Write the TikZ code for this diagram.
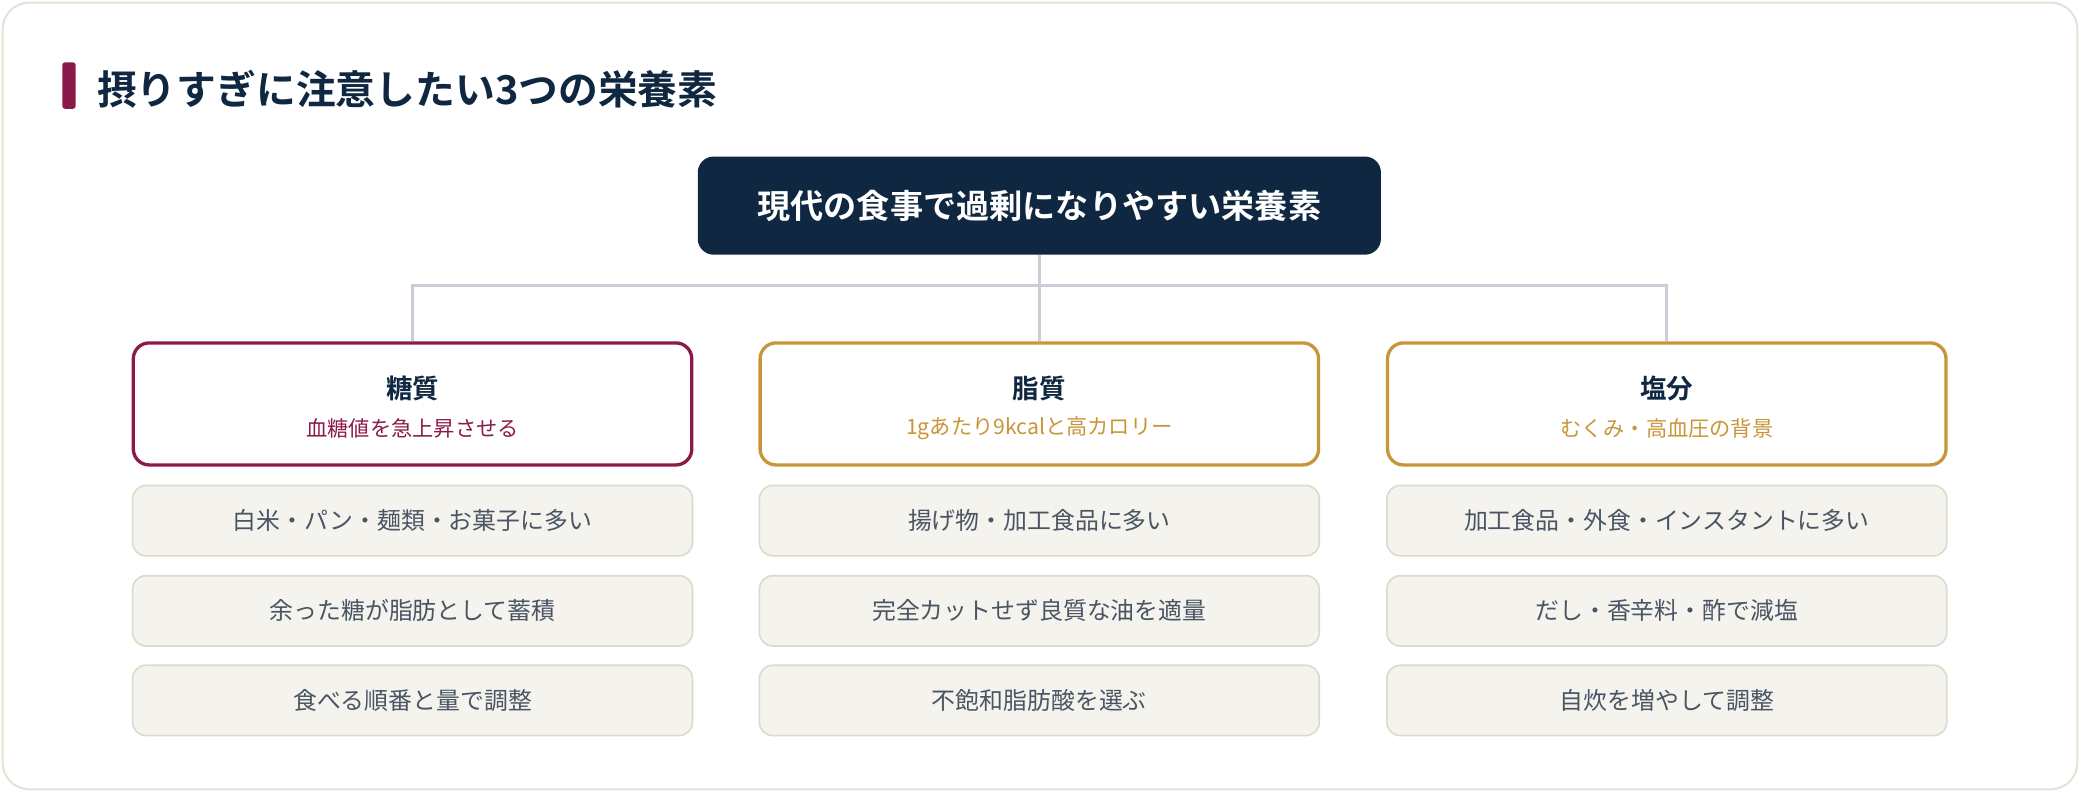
\documentclass[tikz,border=0pt]{standalone}
\usepackage{fontspec}
\setmainfont{Noto Sans CJK JP}[BoldFont={* Bold}]
\definecolor{navy}{HTML}{0F2740}
\definecolor{berry}{HTML}{8B1A4A}
\definecolor{gold}{HTML}{C8963A}
\definecolor{conn}{HTML}{C8CDD6}
\definecolor{frame}{HTML}{E5E2D5}
\definecolor{itemfill}{HTML}{F5F3EE}
\definecolor{itemline}{HTML}{DEDAC8}
\definecolor{itemtext}{HTML}{4A5563}
\begin{document}
\begin{tikzpicture}[x=1pt,y=-1pt,
 cat/.style={draw=#1,line width=2.5pt,rounded corners=12pt,fill=white,minimum width=421pt,minimum height=92pt},
 item/.style={draw=itemline,line width=1.2pt,rounded corners=10pt,fill=itemfill,minimum width=422pt,minimum height=53pt,font=\fontsize{18}{20}\selectfont,text=itemtext},
 ctitle/.style={font=\fontsize{20}{22}\selectfont\bfseries,text=navy},
 csub/.style={font=\fontsize{16}{18}\selectfont,text=#1},
 line/.style={draw=conn,line width=2.5pt}]
\useasboundingbox (0,0) rectangle (1568,597);
\draw[frame,line width=1.5pt,fill=white,rounded corners=20pt] (2,2) rectangle (1566,595);
\fill[berry,rounded corners=2pt] (47,47) rectangle (57,82);
\node[anchor=west,font=\fontsize{30}{32}\selectfont\bfseries,text=navy,inner sep=0] (title) at (73,67) {摂りすぎに注意したい3つの栄養素};
\node[fill=navy,rounded corners=12pt,minimum width=515pt,minimum height=74pt,text=white,font=\fontsize{25}{27}\selectfont\bfseries] (root) at (783.5,155) {現代の食事で過剰になりやすい栄養素};
\node[cat=berry] (c1) at (311,304.5) {};
\node[cat=gold] (c2) at (783.5,304.5) {};
\node[cat=gold] (c3) at (1256.5,304.5) {};
\coordinate (j) at (783.5,215);
\draw[line] (root.south) -- (j);
\draw[line] (c1.north) |- (j) -| (c3.north);
\draw[line] (j) -- (c2.north);
\node[ctitle] at (311,293) {糖質};
\node[csub=berry] at (311,323) {血糖値を急上昇させる};
\node[ctitle] at (783.5,293) {脂質};
\node[csub=gold] at (783.5,323) {1gあたり9kcalと高カロリー};
\node[ctitle] at (1256.5,293) {塩分};
\node[csub=gold] at (1256.5,323) {むくみ・高血圧の背景};
\node[item] (a1) at (311,392.5) {白米・パン・麺類・お菓子に多い};
\node[item] (a2) at (311,460.5) {余った糖が脂肪として蓄積};
\node[item] (a3) at (311,528) {食べる順番と量で調整};
\node[item] (b1) at (783.5,392.5) {揚げ物・加工食品に多い};
\node[item] (b2) at (783.5,460.5) {完全カットせず良質な油を適量};
\node[item] (b3) at (783.5,528) {不飽和脂肪酸を選ぶ};
\node[item] (d1) at (1256.5,392.5) {加工食品・外食・インスタントに多い};
\node[item] (d2) at (1256.5,460.5) {だし・香辛料・酢で減塩};
\node[item] (d3) at (1256.5,528) {自炊を増やして調整};
\end{tikzpicture}
\end{document}
